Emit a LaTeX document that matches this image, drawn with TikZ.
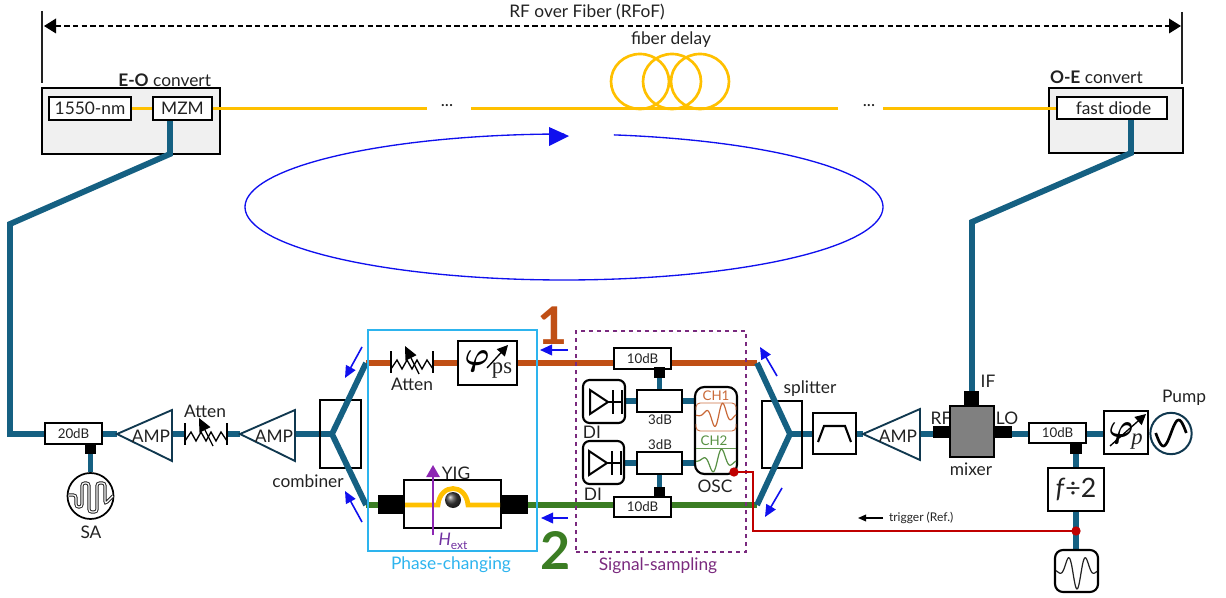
\documentclass[tikz,border=0pt]{standalone}
\usepackage{fontspec}
\usepackage{amsmath}
\setmainfont{Lato}
\newfontfamily\srf{Liberation Serif}
\usetikzlibrary{arrows.meta}
\pgfdeclarelayer{back}\pgfdeclarelayer{wire}
\pgfsetlayers{back,wire,main}
\definecolor{teal1}{HTML}{156082}
\definecolor{tealdk}{HTML}{10384F}
\definecolor{orng}{HTML}{C04F15}
\definecolor{grn}{HTML}{3B7D23}
\definecolor{yel}{HTML}{FFC000}
\definecolor{cyn}{HTML}{2DB4EE}
\definecolor{prp}{HTML}{7A2A7E}
\definecolor{hprp}{HTML}{7030A0}
\definecolor{arblue}{HTML}{1010EE}
\definecolor{redw}{HTML}{C00000}
\definecolor{inkc}{HTML}{222222}
\tikzset{
 pxbox/.style={draw=black,line width=1.6pt,inner sep=0pt,outer sep=0pt,text=inkc,font=\fontsize{13}{15}\selectfont},
 lbl/.style={inner sep=0pt,outer sep=0pt,text=inkc,font=\fontsize{13}{15}\selectfont},
 tiny/.style={font=\fontsize{10}{12}\selectfont},
 rf/.style={draw=teal1,line width=4.4pt,line join=miter},
 fib/.style={draw=yel,line width=2pt},
 arm1/.style={draw=orng,line width=4.4pt},
 arm2/.style={draw=grn,line width=4.4pt},
 bluearr/.style={draw=arblue,line width=1.2pt,-{Triangle[length=9pt,width=8pt]}},
 ampshape/.style={draw=tealdk,line width=1.4pt,line join=miter,fill=white},
 trig/.style={draw=redw,line width=1.5pt},
 dotr/.style={circle,fill=redw,inner sep=0pt,minimum size=7pt},
}
\newcommand\bxn[7][]{%
 \pgfmathsetmacro\pxcx{(#3+#5)/2}\pgfmathsetmacro\pxcy{(#4+#6)/2}%
 \pgfmathsetmacro\pxww{(#5-#3)*.75}\pgfmathsetmacro\pxhh{(#6-#4)*.75}%
 \node[pxbox,minimum width=\pxww pt,minimum height=\pxhh pt,#1] (#2) at (\pxcx,\pxcy) {#7};}
\newcommand\attsym[3]{% left x, centre y, name
 \coordinate (#3l) at (#1,#2); \coordinate (#3r) at (#1+42,#2);
 \draw[line width=1.2pt,draw=black] (#1,#2-11) -- (#1,#2+11) (#1+42,#2-11) -- (#1+42,#2+11);
 \draw[line width=1pt,draw=black,line join=miter] (#1,#2+7) -- (#1+6,#2-2) -- (#1+11,#2+7) -- (#1+16,#2-2) -- (#1+21,#2+7) -- (#1+26,#2-2) -- (#1+31,#2+7) -- (#1+36,#2-2) -- (#1+42,#2+7);
 \draw[line width=1pt,draw=black,-{Triangle[length=10pt,width=9pt]}] (#1+28,#2+12) -- (#1+14,#2-16);}
\newcommand\diodesym[2]{%
 \draw[line width=1.5pt,draw=black,line join=miter] (#1,#2-12) -- (#1,#2+12) -- (#1+18,#2) -- cycle;
 \draw[line width=1.5pt,draw=black] (#1+18,#2) -- (#1+33,#2) (#1+23,#2-12) -- (#1+23,#2+12) (#1+32,#2-12) -- (#1+32,#2+12);}
\begin{document}
\begin{tikzpicture}[x=0.75pt,y=-0.75pt]
\useasboundingbox (0,0) rectangle (1226,598);

% --- top span
\coordinate (spanL) at (44,26); \coordinate (spanR) at (1181,26);
\coordinate (barLt) at (42,11); \coordinate (barLb) at (42,83);
\coordinate (barRt) at (1182,12); \coordinate (barRb) at (1182,84);
\draw[line width=1pt,draw=inkc] (barLt) -- (barLb) (barRt) -- (barRb);
\draw[line width=1pt,dash pattern=on 4pt off 2.5pt,draw=black,{Triangle[length=9pt,width=11pt]}-{Triangle[length=9pt,width=11pt]}] (spanL) -- (spanR);
\node[lbl] (rfof) at (587,12) {RF over Fiber (RFoF)};
\node[lbl] (fdl) at (671,40) {fiber delay};

% --- E-O / O-E
\begin{pgfonlayer}{back}
\bxn[fill=black!6]{eo}{42}{88}{220}{154}{}
\bxn[fill=black!6]{oe}{1049}{88}{1183}{153}{}
\end{pgfonlayer}
\node[lbl,anchor=east] (eolab) at (211,80) {\textbf{E-O} convert};
\node[lbl,anchor=west] (oelab) at (1050,77) {\textbf{O-E} convert};
\bxn[fill=white]{laser}{49}{97}{131}{120}{1550-nm}
\bxn[fill=white]{mzm}{153}{97}{212}{120}{MZM}
\bxn[fill=white]{diode}{1057}{97}{1167}{119}{\,fast diode}
\node[lbl] (dots1) at (447,106) {...};
\node[lbl] (dots2) at (869,106) {...};
\coordinate (fA) at (427,108.5); \coordinate (fB) at (471,108.5);
\coordinate (fC) at (838,108.5); \coordinate (fD) at (883,108.5);
\coordinate (mzmb) at (170,120);
\begin{pgfonlayer}{wire}
\draw[fib] (laser.east |- fA) -- (mzm.west |- fA);
\draw[fib] (mzm.east |- fA) -- (fA);
\draw[fib] (fB) -- (fC);
\draw[fib] (fD) -- (diode.west |- fD);
\draw[fib] (640,81.5) ellipse (29 and 27.5);
\draw[fib] (672,81.5) ellipse (29 and 27.5);
\draw[fib] (700,81.5) ellipse (29 and 27.5);
\end{pgfonlayer}

% --- big loop
\draw[draw=arblue,line width=1pt] plot[domain=81:-270,samples=180,smooth] ({564+319*cos(\x)},{207-73*sin(\x)});
\fill[arblue] (549,127) -- (569,136) -- (549,146) -- cycle;

% --- left chain
\bxn[fill=white,line width=1.5pt,tiny]{c20}{45}{423}{102}{444}{20dB}
\fill[black] (85,444) rectangle (96,454);
\coordinate (c20p) at (90.5,454);
\node[circle,draw=black,line width=1.3pt,fill=white,minimum size=34.5pt,inner sep=0pt] (sa) at (90.5,496) {};
\draw[draw=inkc,line width=2.4pt,rounded corners=2pt] (69,495)--(76,495)--(76,507)--(82,507)--(82,483)--(89,483)--(89,512)--(97,512)--(97,483)--(105,483)--(105,504)--(113,496);
\draw[draw=white,line width=.9pt,rounded corners=2pt] (69,495)--(76,495)--(76,507)--(82,507)--(82,483)--(89,483)--(89,512)--(97,512)--(97,483)--(105,483)--(105,504)--(113,496);
\node[lbl] (salab) at (91,532) {SA};
\coordinate (amp1t) at (117,434);\coordinate (amp1b) at (172,434);
\coordinate (amp2t) at (240,434);\coordinate (amp2b) at (295,434);
\draw[ampshape] (amp1t) -- (172,410) -- (172,461) -- cycle;
\draw[ampshape] (amp2t) -- (295,410) -- (295,461) -- cycle;
\node[lbl] (amp1l) at (151,436) {AMP};
\node[lbl] (amp2l) at (274,436) {AMP};
\attsym{185}{434}{atA}
\node[lbl] (attAlab) at (205,411) {Atten};
\bxn{comb}{320}{400}{361}{468}{}
\node[lbl] (comblab) at (308,481) {combiner};
\coordinate (cv) at (332,434); \coordinate (ctop) at (366,363); \coordinate (cbot) at (366,505);
\coordinate (bendL1) at (170,154); \coordinate (bendL2) at (10,224); \coordinate (bendL3) at (10,434);
\begin{pgfonlayer}{wire}
\draw[rf] (mzmb) -- (bendL1) -- (bendL2) -- (bendL3) -- (bendL3 -| c20.west);
\draw[rf] (c20.east |- amp1t) -- (amp1t);
\draw[rf] (amp1b) -- (atAl);
\draw[rf] (atAr) -- (amp2t);
\draw[rf] (amp2b) -- (cv);
\draw[rf] (c20p) -- (sa.north);
\end{pgfonlayer}
\draw[rf] (ctop) -- (cv) -- (cbot);

% --- blue arrows
\coordinate (a1s) at (362,347);\coordinate (a1e) at (345,378);
\coordinate (a2s) at (362,522);\coordinate (a2e) at (345,491);
\coordinate (a3s) at (568,350);\coordinate (a3e) at (540,350);
\coordinate (a4s) at (568,518);\coordinate (a4e) at (541,518);
\coordinate (a5s) at (777,376);\coordinate (a5e) at (760,347);
\coordinate (a6s) at (782,488);\coordinate (a6e) at (765,517);
\foreach \p in {1,...,6} \draw[bluearr] (a\p s) -- (a\p e);

% --- phase-changing box
\bxn[draw=cyn,line width=1.5pt]{pc}{368}{330}{537}{551}{}
\node[lbl,text=cyn] (pclab) at (451,565) {Phase-changing};
\bxn[fill=white]{ps}{458}{341}{517}{385}{}
\node[inner sep=0pt,font=\fontsize{31}{31}\selectfont] (psphi) at (477,361) {$\boldsymbol{\varphi}$};
\node[inner sep=0pt,text=inkc,font=\srf\fontsize{17}{17}\selectfont] (pslab) at (502,371) {ps};
\coordinate (pss) at (487,368); \coordinate (pse) at (508,345);
\draw[line width=1pt,-{Triangle[length=8pt,width=8pt]}] (pss) -- (pse);
\attsym{391}{362}{atB}
\node[lbl] (attBlab) at (412,384) {Atten};
\node[font=\bfseries\fontsize{39}{39}\selectfont,text=orng,inner sep=0pt] (one) at (553,326) {1};
\node[font=\bfseries\fontsize{39}{39}\selectfont,text=grn,inner sep=0pt] (two) at (556,550) {2};
% YIG
\fill[black] (378,495) rectangle (404,514);
\fill[black] (501,495) rectangle (528,514);
\coordinate (yl) at (378,505); \coordinate (yr) at (528,505);
\bxn{yig}{404}{480}{501}{528}{}
\draw[draw=yel,line width=3.6pt] (405,505) -- (438,505) .. controls (440,483) and (466,483) .. (468,505) -- (500,505);
\shade[ball color=black!75] (453,500) circle (8);
\coordinate (hb) at (433,535); \coordinate (ht) at (433,465);
\draw[draw=hprp!80!magenta,line width=1.3pt,-{Triangle[length=9pt,width=10pt]}] (hb) -- (ht);
\node[lbl] (yiglab) at (456,473) {YIG};
\node[lbl,text=hprp] (hlab) at (453,541) {\textit{H}\raisebox{-3pt}{\fontsize{9}{9}\selectfont ext}};

% --- signal sampling
\bxn[draw=prp,line width=1pt,dashed]{ss}{576}{331}{746}{552}{}
\node[lbl,text=prp] (sslab) at (658,566) {Signal-sampling};
\bxn[fill=white,tiny]{ten1}{614}{348}{671}{369}{10dB}
\bxn[fill=white,tiny]{ten2}{614}{497}{671}{517}{10dB}
\coordinate (splA) at (757,363); \coordinate (splB) at (757,505); \coordinate (spv) at (790,434);
\begin{pgfonlayer}{wire}
\draw[arm1] (ctop) -- (atBl |- ctop);
\draw[arm1] (atBr |- ctop) -- (ps.west |- ctop);
\draw[arm1] (ps.east |- ctop) -- (ctop -| ten1.west);
\draw[arm1] (ctop -| ten1.east) -- (splA);
\draw[arm2] (cbot) -- (yl);
\draw[arm2] (yr) -- (cbot -| ten2.west);
\draw[arm2] (cbot -| ten2.east) -- (splB);
\end{pgfonlayer}
\fill[black] (654,367) rectangle (665,378);
\fill[black] (654,487) rectangle (665,498);
\coordinate (tp1) at (659.5,378); \coordinate (tp2) at (659.5,487);
\bxn[fill=white]{hyb1}{637}{390}{682}{412}{}
\bxn[fill=white]{hyb2}{637}{452}{682}{474}{}
\node[lbl,tiny] (h1l) at (660,420) {3dB};
\node[lbl,tiny] (h2l) at (660,445) {3dB};
\bxn[rounded corners=5pt]{di1}{583}{380}{625}{423}{}
\bxn[rounded corners=5pt]{di2}{583}{441}{624}{484}{}
\diodesym{590}{402}
\diodesym{589}{463}
\node[lbl] (d1l) at (592,432) {DI};
\node[lbl] (d2l) at (593,494) {DI};
\bxn[rounded corners=7pt]{osc}{695}{387}{737}{474}{}
\node[lbl,text=orng!85!white,font=\fontsize{10}{11}\selectfont] (ch1) at (716,396) {CH1};
\node[lbl,text=grn!85!white,font=\fontsize{10}{11}\selectfont] (ch2) at (714,441) {CH2};
\node[lbl] (osclab) at (715,486) {OSC};
\draw[draw=orng!80!white,line width=.7pt,rounded corners=3pt] (696,410) -- (696,403) -- (736,403) -- (736,410);
\draw[draw=orng!80!white,line width=.7pt,rounded corners=3pt] (696,424) -- (696,431) -- (736,431) -- (736,424);
\draw[draw=grn!80!white,line width=.7pt] (696,448) -- (736,448);
\draw[draw=orng!85!white,line width=.9pt] plot[domain=696:736,samples=60,smooth] (\x,{415-13*exp(0-((\x-719)/12)*((\x-719)/12))*cos(360*(\x-723)/17)});
\draw[draw=grn!85!white,line width=.9pt] plot[domain=696:736,samples=60,smooth] (\x,{461-13*exp(0-((\x-718)/12)*((\x-718)/12))*cos(360*(\x-722)/19)});
\begin{pgfonlayer}{wire}
\draw[rf] (tp1) -- (hyb1.north -| tp1);
\draw[rf] (tp2) -- (hyb2.south -| tp2);
\draw[rf] (di1.east |- hyb1) -- (hyb1.west);
\draw[rf] (di2.east |- hyb2) -- (hyb2.west);
\draw[rf] (hyb1.east) -- (hyb1.east -| osc.west);
\draw[rf] (hyb2.east) -- (hyb2.east -| osc.west);
\end{pgfonlayer}

% --- splitter and right chain
\bxn{split}{762}{401}{802}{468}{}
\node[lbl] (spllab) at (810,389) {splitter};
\bxn[fill=white]{filt}{813}{413}{856}{454}{}
\draw[line width=1.6pt,draw=black] (818,442) -- (824,426) -- (845,426) -- (851,442);
\coordinate (amp3t) at (863,434);\coordinate (amp3b) at (920,434);
\draw[ampshape] (amp3t) -- (920,409) -- (920,460) -- cycle;
\node[lbl] (amp3l) at (898,436) {AMP};
\node[lbl] (rflab) at (941,418) {RF};
\fill[black] (933,426) rectangle (950,438);
\fill[black] (964,391) rectangle (979,406);
\fill[black] (994,426) rectangle (1012,438);
\coordinate (mixL) at (933,434); \coordinate (mixR) at (1012,434); \coordinate (mixT) at (972,391);
\bxn[fill=black!50,line width=2pt]{mix}{950}{406}{994}{457}{}
\node[lbl] (iflab) at (988,381) {IF};
\node[lbl] (lolab) at (1007,418) {LO};
\node[lbl] (mixlab) at (971,469) {mixer};
\bxn[fill=white,tiny]{ten3}{1029}{423}{1086}{443}{10dB}
\fill[black] (1070,443) rectangle (1082,454);
\coordinate (tp3) at (1076,454);
\bxn[fill=white]{fdiv}{1048}{468}{1104}{511}{\fontsize{20}{20}\selectfont\textit{f}÷2}
\bxn[fill=white]{php}{1104}{411}{1148}{454}{}
\node[inner sep=0pt,font=\fontsize{31}{31}\selectfont] (phphi) at (1121,433) {$\boldsymbol{\varphi}$};
\node[inner sep=0pt,text=inkc,font=\srf\itshape\fontsize{17}{17}\selectfont] (pplab) at (1137,442) {p};
\coordinate (phs) at (1110,446); \coordinate (phe) at (1146,414);
\draw[line width=1pt,-{Triangle[length=8pt,width=8pt]}] (phs) -- (phe);
\node[circle,draw=tealdk,line width=1.5pt,fill=white,minimum size=31pt,inner sep=0pt] (pump) at (1171,433.5) {};
\draw[line width=2pt] plot[domain=-90:90,samples=40,smooth] ({1171+\x*0.17},{433-13*sin(2*\x)});
\node[lbl] (pumplab) at (1184,398) {Pump};
\bxn[fill=white,rounded corners=6pt]{lo}{1055}{550}{1098}{592}{}
\draw[draw=inkc,line width=.9pt] plot[domain=1056:1097,samples=60,smooth] (\x,{570+19*exp(0-((\x-1077)/13)*((\x-1077)/13))*cos(360*(\x-1077)/18)});
\coordinate (bendR1) at (1131,153); \coordinate (bendR2) at (972,222);
\coordinate (diodeb) at (1131,120); \coordinate (trgJ) at (1076,531);
\coordinate (oscT) at (734,472); \coordinate (trgA) at (753,472); \coordinate (trgB) at (753,531);
\begin{pgfonlayer}{wire}
\draw[rf] (diodeb) -- (bendR1) -- (bendR2) -- (mixT);
\draw[rf] (spv) -- (spv -| filt.west);
\draw[rf] (spv -| filt.east) -- (amp3t);
\draw[rf] (amp3b) -- (mixL);
\draw[rf] (mixR) -- (mixR -| ten3.west);
\draw[rf] (mixR -| ten3.east) -- (mixR -| php.west);
\draw[rf] (mixR -| php.east) -- (mixR -| pump.west);
\draw[rf] (tp3) -- (fdiv.north -| tp3);
\draw[rf] (fdiv.south -| tp3) -- (lo.north -| tp3);
\end{pgfonlayer}
\draw[rf] (splA) -- (spv) -- (splB);
% trigger
\draw[trig] (oscT) -- (trgA) -- (trgB) -- (trgJ);
\node[dotr] (dot1) at (oscT) {};
\node[dotr] (dot2) at (trgJ) {};
\coordinate (tas) at (883,518); \coordinate (tae) at (858,518);
\draw[line width=1pt,-{Triangle[length=6pt,width=5pt]}] (tas) -- (tae);
\node[lbl,font=\fontsize{9}{10}\selectfont,anchor=west] (trgl) at (889,518) {trigger (Ref.)};
\end{tikzpicture}
\end{document}
